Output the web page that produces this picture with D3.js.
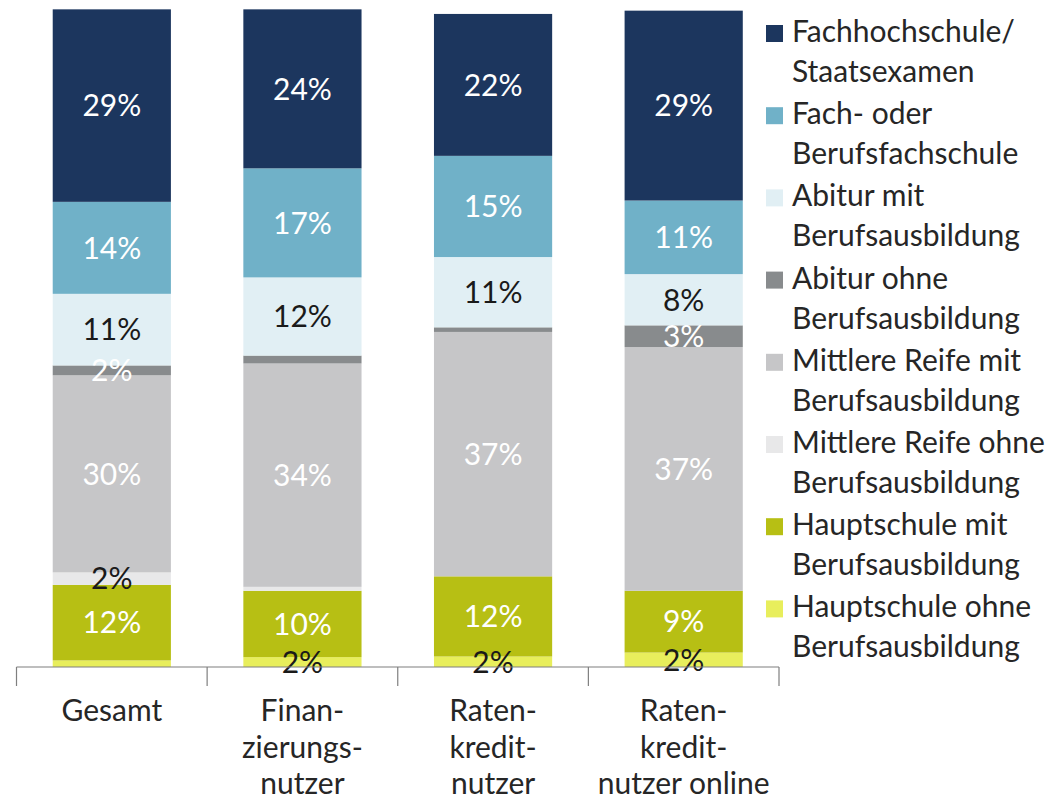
<!DOCTYPE html>
<html lang="de">
<head>
<meta charset="utf-8">
<script src="https://cdn.jsdelivr.net/npm/d3@7"></script>
<style>
  html, body { margin: 0; padding: 0; background: #fff; }
  svg { display: block; }
  text { font-family: Lato, "Open Sans", sans-serif; }
</style>
</head>
<body>
<svg id="chart" width="1063" height="802"></svg>
<script>
// Bar categories (each entry is the wrapped axis label)
const categories = ["Gesamt", "Finanzierungsnutzer", "Ratenkreditnutzer", "Ratenkreditnutzer online"];
const categoryLines = [
  ["Gesamt"],
  ["Finan-", "zierungs-", "nutzer"],
  ["Raten-", "kredit-", "nutzer"],
  ["Raten-", "kredit-", "nutzer online"]
];

// Education levels, stacked from bottom to top
const levels = [
  "Hauptschule ohne Berufsausbildung",
  "Hauptschule mit Berufsausbildung",
  "Mittlere Reife ohne Berufsausbildung",
  "Mittlere Reife mit Berufsausbildung",
  "Abitur ohne Berufsausbildung",
  "Abitur mit Berufsausbildung",
  "Fach- oder Berufsfachschule",
  "Fachhochschule/ Staatsexamen"
];
const levelLines = [
  ["Hauptschule ohne", "Berufsausbildung"],
  ["Hauptschule mit", "Berufsausbildung"],
  ["Mittlere Reife ohne", "Berufsausbildung"],
  ["Mittlere Reife mit", "Berufsausbildung"],
  ["Abitur ohne", "Berufsausbildung"],
  ["Abitur mit", "Berufsausbildung"],
  ["Fach- oder", "Berufsfachschule"],
  ["Fachhochschule/", "Staatsexamen"]
];

// Shares in percent, one value per category
const hauptschuleOhne   = [1.0, 1.5, 1.6, 2.2];
const hauptschuleMit    = [11.5, 10.1, 12.2, 9.4];
const mittlereReifeOhne = [1.9, 0.6, 0.0, 0.0];
const mittlereReifeMit  = [30.0, 34.0, 37.2, 37.1];
const abiturOhne        = [1.5, 1.2, 0.7, 3.3];
const abiturMit         = [10.9, 11.9, 10.7, 7.8];
const fachschule        = [14.0, 16.6, 15.4, 11.2];
const fachhochschule    = [29.3, 24.2, 21.6, 28.9];

const series = [hauptschuleOhne, hauptschuleMit, mittlereReifeOhne, mittlereReifeMit,
                abiturOhne, abiturMit, fachschule, fachhochschule];

const colors = ["#e8ee5c", "#b7bf14", "#e8e8e9", "#c6c6c8", "#888b8d", "#e1eff4", "#70b1c8", "#1c365e"];
const labelColors = ["#1a1a1a", "#ffffff", "#1a1a1a", "#ffffff", "#ffffff", "#1a1a1a", "#ffffff", "#ffffff"];

const FONT = 30;
const svg = d3.select("#chart");

// Table for d3.stack: one row per category, one column per level
const rows = categories.map((c, i) => {
  const r = { category: c };
  levels.forEach((l, k) => { r[l] = series[k][i]; });
  return r;
});
const stacked = d3.stack().keys(levels)(rows);

const x = d3.scaleBand().domain(categories).range([16.5, 779]).paddingInner(0.38).paddingOuter(0.19);
const y = d3.scaleLinear().domain([0, 100]).range([667, 10]);

// Segments
const layer = svg.append("g").selectAll("g").data(stacked).join("g")
  .attr("fill", (d, k) => colors[k]);
layer.selectAll("rect").data(d => d).join("rect")
  .attr("x", d => x(d.data.category))
  .attr("width", x.bandwidth())
  .attr("y", d => y(d[1]))
  .attr("height", d => y(d[0]) - y(d[1]));

// Value labels (only for shares that round to at least 2 %)
const lab = svg.append("g").attr("font-size", FONT).attr("text-anchor", "middle");
stacked.forEach((s, k) => {
  lab.selectAll(null).data(s.filter(d => Math.round(d[1] - d[0]) >= 2)).join("text")
    .attr("x", d => x(d.data.category) + x.bandwidth() / 2)
    .attr("y", d => (y(d[0]) + y(d[1])) / 2)
    .attr("dy", "0.36em")
    .attr("fill", labelColors[k])
    .text(d => Math.round(d[1] - d[0]) + "%");
});

// Category axis: baseline plus ticks between categories
const step = x.step();
const edges = categories.map(c => x(c) - step * x.paddingInner() / 2);
edges.push(x(categories[categories.length - 1]) + x.bandwidth() + step * x.paddingInner() / 2);
const axis = svg.append("g").attr("stroke", "#7f7f7f").attr("stroke-width", 1.2);
axis.append("line").attr("x1", edges[0]).attr("x2", edges[edges.length - 1]).attr("y1", y(0)).attr("y2", y(0));
axis.selectAll(null).data(edges).join("line")
  .attr("x1", d => d).attr("x2", d => d).attr("y1", y(0)).attr("y2", y(0) + 19);

const cat = svg.append("g").attr("font-size", FONT).attr("text-anchor", "middle").attr("fill", "#262626");
categories.forEach((c, i) => {
  const t = cat.append("text").attr("x", x(c) + x.bandwidth() / 2).attr("y", 721);
  categoryLines[i].forEach((line, j) => {
    t.append("tspan").attr("x", x(c) + x.bandwidth() / 2).attr("dy", j === 0 ? 0 : 36.5).text(line);
  });
});

// Legend, top level first
const legend = svg.append("g").attr("font-size", FONT).attr("fill", "#262626");
const order = d3.range(levels.length).reverse();
order.forEach((k, idx) => {
  const base = 42 + idx * 82.2;
  legend.append("rect").attr("x", 766).attr("y", base - 17).attr("width", 17).attr("height", 17).attr("fill", colors[k]);
  const t = legend.append("text").attr("x", 792).attr("y", base);
  levelLines[k].forEach((line, j) => {
    t.append("tspan").attr("x", 792).attr("dy", j === 0 ? 0 : 40).text(line);
  });
});
</script>
</body>
</html>
